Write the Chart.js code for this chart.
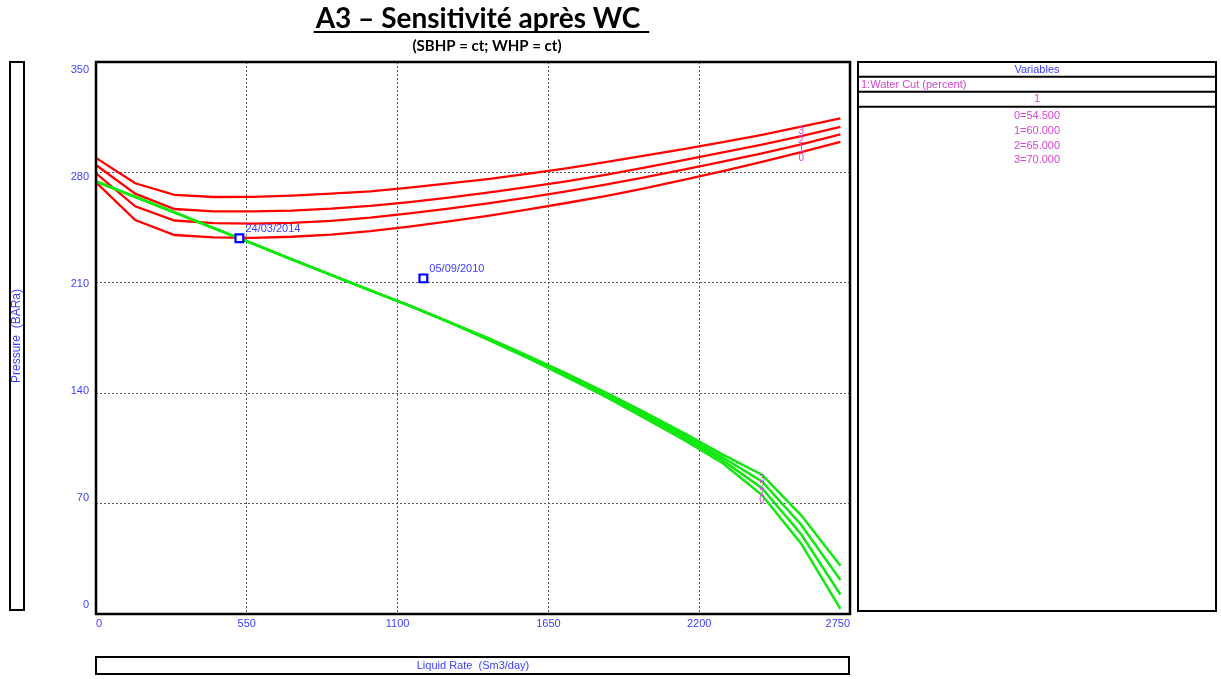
<!DOCTYPE html>
<html>
<head>
<meta charset="utf-8">
<script src="https://cdn.jsdelivr.net/npm/chart.js@4.4.1/dist/chart.umd.min.js"></script>
<style>
  html, body { margin: 0; padding: 0; background: #ffffff; }
  #wrap { position: relative; width: 1221px; height: 679px; }
</style>
</head>
<body>
<div id="wrap"><canvas id="c" width="1221" height="679"></canvas></div>
<script>
// Liquid rate sample points (Sm3/day)
const rates = [0, 143, 286, 429, 572, 714, 857, 1000, 1143, 1286, 1429, 1572, 1715, 1858, 2000, 2143, 2286, 2429, 2572, 2715];

// Outflow (VLP) curves, pressure in BARa, one per water-cut case
const vlp0 = [273.7, 249.8, 240.3, 238.8, 238.5, 239.2, 240.6, 242.8, 245.6, 248.9, 252.5, 256.4, 260.6, 265.0, 269.9, 275.2, 280.8, 286.6, 292.8, 299.4];
const vlp1 = [279.4, 258.5, 249.5, 247.9, 247.5, 248.0, 249.3, 251.3, 254.0, 257.0, 260.4, 264.0, 268.0, 272.3, 276.9, 281.8, 286.8, 292.0, 297.8, 304.1];
const vlp2 = [284.7, 266.5, 256.8, 255.3, 255.3, 255.8, 257.0, 258.8, 261.2, 264.0, 267.2, 270.6, 274.3, 278.4, 283.0, 287.8, 292.7, 297.6, 303.0, 308.9];
const vlp3 = [289.2, 273.1, 265.7, 264.4, 264.5, 265.3, 266.5, 268.0, 270.3, 273.0, 275.8, 279.0, 282.6, 286.5, 290.6, 294.8, 299.2, 303.8, 309.0, 314.3];

// Inflow (IPR) curves, pressure in BARa, one per water-cut case
const ipr0 = [274.3, 264.5, 254.6, 244.7, 234.8, 224.9, 215.0, 205.2, 195.5, 185.2, 174.0, 162.5, 150.4, 137.8, 124.4, 110.6, 95.6, 75.4, 44.6, 3.2];
const ipr1 = [274.3, 264.5, 254.6, 244.7, 234.8, 224.9, 215.0, 205.2, 195.5, 185.2, 174.3, 163.0, 151.1, 138.7, 125.6, 112.0, 97.4, 79.7, 50.6, 12.4];
const ipr2 = [274.3, 264.5, 254.6, 244.7, 234.8, 224.9, 215.0, 205.2, 195.5, 185.2, 174.7, 163.5, 151.8, 139.6, 126.8, 113.4, 99.2, 84.0, 56.6, 21.6];
const ipr3 = [274.3, 264.5, 254.6, 244.7, 234.8, 224.9, 215.0, 205.2, 195.5, 185.2, 175.0, 164.0, 152.5, 140.5, 128.0, 114.8, 101.0, 88.3, 62.6, 30.6];

// Sensitivity variable
const variableName = '1:Water Cut (percent)';
const waterCut = [54.5, 60.0, 65.0, 70.0];

// Well test points
const testRates = [523, 1194];
const testPressures = [238.2, 212.8];
const testDates = ['24/03/2014', '05/09/2010'];

// Axis ticks
const xTicks = [0, 550, 1100, 1650, 2200, 2750];
const yTicks = [0, 70, 140, 210, 280, 350];

const titleText = 'A3 \u2013 Sensitivit\u00e9 apr\u00e8s WC';
const subtitleText = '(SBHP = ct; WHP = ct)';
const xTitle = 'Liquid Rate  (Sm3/day)';
const yTitle = 'Pressure  (BARa)';

const BLUE_TXT = '#3d3dff';
const MAGENTA = '#d645d6';
const SANS = '"Liberation Sans", Arial, sans-serif';
const SMALL = '11px ' + SANS;

const toXY = (ys) => rates.map((r, i) => ({ x: r, y: ys[i] }));

const vlpSets = [vlp0, vlp1, vlp2, vlp3];
const iprSets = [ipr0, ipr1, ipr2, ipr3];

const datasets = [];
datasets.push({
  label: 'tests',
  data: testRates.map((r, i) => ({ x: r, y: testPressures[i] })),
  showLine: false,
  pointStyle: 'rect',
  pointRadius: 5.5,
  pointBorderWidth: 2.2,
  pointBorderColor: '#0000ff',
  pointBackgroundColor: '#ffffff',
  order: 0
});
iprSets.forEach((s, k) => datasets.push({
  label: 'IPR ' + k, data: toXY(s), borderColor: '#10e810', borderWidth: 2.5,
  pointRadius: 0, tension: 0, fill: false, order: 1
}));
vlpSets.forEach((s, k) => datasets.push({
  label: 'VLP ' + k, data: toXY(s), borderColor: '#ff0000', borderWidth: 2.3,
  pointRadius: 0, tension: 0, fill: false, order: 2
}));

// Frame, titles, boxed axis captions, variable table and curve annotations
const decorations = {
  id: 'decorations',
  afterDatasetsDraw(chart) {
    const ctx = chart.ctx;
    const a = chart.chartArea;
    const xs = chart.scales.x, ys = chart.scales.y;
    ctx.save();

    // case numbers stacked beside the curves
    ctx.font = '10px ' + SANS;
    ctx.fillStyle = MAGENTA;
    ctx.textAlign = 'center';
    ctx.textBaseline = 'middle';
    const stack = (sets, idx, step) => {
      const px = xs.getPixelForValue(rates[idx]);
      const top = ys.getPixelForValue(sets[sets.length - 1][idx]);
      for (let k = sets.length - 1, n = 0; k >= 0; k--, n++) {
        ctx.fillText(String(k), px, top + 5 + n * step);
      }
    };
    stack(vlpSets, 18, 9);
    stack(iprSets, 17, 7);

    // test point dates
    ctx.font = SMALL;
    ctx.fillStyle = BLUE_TXT;
    ctx.textAlign = 'left';
    testRates.forEach((r, i) => {
      const px = xs.getPixelForValue(r);
      const py = ys.getPixelForValue(testPressures[i]);
      ctx.fillText(testDates[i], px + 6, py - 9);
    });

    // plot frame
    ctx.strokeStyle = '#000';
    ctx.lineWidth = 2.5;
    ctx.strokeRect(a.left, a.top, a.right - a.left, a.bottom - a.top);
    ctx.restore();
  },
  afterDraw(chart) {
    const ctx = chart.ctx;
    const a = chart.chartArea;
    ctx.save();
    ctx.strokeStyle = '#000';
    ctx.lineWidth = 2;

    // title with underline
    ctx.fillStyle = '#000';
    ctx.textAlign = 'center';
    ctx.textBaseline = 'alphabetic';
    ctx.font = 'bold 28px Lato, "Open Sans", sans-serif';
    const cx = 478;
    ctx.fillText(titleText, cx, 28);
    const w = ctx.measureText(titleText).width;
    ctx.beginPath();
    ctx.moveTo(cx - w / 2 - 2, 32);
    ctx.lineTo(cx + w / 2 + 9, 32);
    ctx.stroke();
    ctx.font = 'bold 15px Lato, "Open Sans", sans-serif';
    ctx.fillText(subtitleText, 487, 51);

    // y-axis caption box
    ctx.strokeRect(10, a.top, 14, 610 - a.top);
    ctx.save();
    ctx.translate(17, 336);
    ctx.rotate(-Math.PI / 2);
    ctx.font = '12px ' + SANS;
    ctx.fillStyle = BLUE_TXT;
    ctx.textBaseline = 'middle';
    ctx.fillText(yTitle, 0, 0);
    ctx.restore();

    // x-axis caption box
    ctx.strokeRect(a.left, 657, a.right - a.left - 1, 17);
    ctx.font = SMALL;
    ctx.fillStyle = BLUE_TXT;
    ctx.textBaseline = 'middle';
    ctx.fillText(xTitle, (a.left + a.right) / 2, 666);

    // variable table
    const L = 858, R = 1216, T = a.top, B = 611;
    const mid = (L + R) / 2;
    ctx.strokeRect(L, T, R - L, B - T);
    [76.7, 91.7, 106.7].forEach(y => {
      ctx.beginPath(); ctx.moveTo(L, y); ctx.lineTo(R, y); ctx.stroke();
    });
    ctx.font = SMALL;
    ctx.textBaseline = 'middle';
    ctx.fillStyle = BLUE_TXT;
    ctx.textAlign = 'center';
    ctx.fillText('Variables', mid, 69.5);
    ctx.fillStyle = MAGENTA;
    ctx.textAlign = 'left';
    ctx.fillText(variableName, L + 3, 84.5);
    ctx.textAlign = 'center';
    ctx.fillText('1', mid, 99.3);
    waterCut.forEach((v, i) => {
      ctx.fillText(i + '=' + v.toFixed(3), mid, 116 + i * 14.8);
    });
    ctx.restore();
  }
};

new Chart(document.getElementById('c'), {
  type: 'line',
  data: { datasets },
  options: {
    responsive: false,
    devicePixelRatio: 1,
    animation: false,
    layout: { padding: { left: 0, top: 62, right: 371, bottom: 45 } },
    plugins: { legend: { display: false }, tooltip: { enabled: false }, title: { display: false } },
    scales: {
      x: {
        type: 'linear', min: 0, max: 2750,
        afterBuildTicks: s => { s.ticks = xTicks.map(v => ({ value: v })); },
        afterFit: s => { s.height = 20; },
        grid: { color: '#555', lineWidth: 1, drawTicks: false },
        border: { display: false, dash: [2, 2] },
        ticks: {
          color: BLUE_TXT, font: { family: SANS, size: 11 }, padding: 3,
          align: 'inner', maxRotation: 0, callback: v => String(v)
        }
      },
      y: {
        type: 'linear', min: 0, max: 350, position: 'left',
        afterBuildTicks: s => { s.ticks = yTicks.map(v => ({ value: v })); },
        afterFit: s => { s.width = 0; },
        grid: { color: '#555', lineWidth: 1, drawTicks: false },
        border: { display: false, dash: [2, 2] },
        ticks: { display: false }
      },
      // value labels are laid out on a slightly tighter span than the grid
      yLabels: {
        type: 'linear', min: -5.6, max: 355.1, position: 'left',
        afterBuildTicks: s => { s.ticks = yTicks.map(v => ({ value: v })); },
        afterFit: s => { s.width = 96; },
        grid: { display: false, drawTicks: false },
        border: { display: false },
        ticks: { color: BLUE_TXT, font: { family: SANS, size: 11 }, padding: 7, callback: v => String(v) }
      }
    }
  },
  plugins: [decorations]
});
</script>
</body>
</html>
